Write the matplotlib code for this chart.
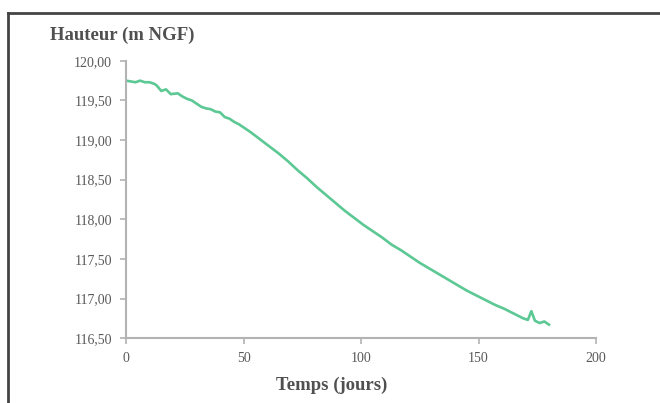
import matplotlib
matplotlib.use('Agg')
import matplotlib.pyplot as plt
from matplotlib.lines import Line2D
from matplotlib.ticker import FuncFormatter

# niveau piezometrique (m NGF) en fonction du temps (jours)
jours = [0, 2, 4, 6, 8, 10, 12, 13, 15, 17, 19, 22, 24, 26, 28, 30, 32, 34, 36, 38,
         40, 42, 44, 46, 48, 50, 53, 57, 61, 65, 69, 73, 77, 81, 85, 89, 93, 97,
         101, 105, 109, 113, 117, 121, 125, 129, 133, 137, 141, 145, 149, 153,
         157, 161, 165, 169, 171, 172.5, 174, 176, 178, 180]
hauteur = [119.75, 119.74, 119.73, 119.75, 119.73, 119.73, 119.71, 119.69, 119.62, 119.64,
           119.58, 119.59, 119.55, 119.52, 119.50, 119.46, 119.42, 119.40, 119.39, 119.36,
           119.35, 119.29, 119.27, 119.23, 119.20, 119.16, 119.10, 119.01, 118.92, 118.83,
           118.73, 118.62, 118.52, 118.41, 118.31, 118.21, 118.11, 118.02, 117.93, 117.85,
           117.77, 117.68, 117.61, 117.53, 117.45, 117.38, 117.31, 117.24, 117.17, 117.10,
           117.04, 116.98, 116.92, 116.87, 116.81, 116.75, 116.73, 116.84, 116.72, 116.69,
           116.71, 116.67]

gris = '#595959'
police = ['Liberation Serif', 'DejaVu Serif']

fig = plt.figure(figsize=(6.6, 4.03), dpi=100, facecolor='w')
ax = fig.add_axes([0.191, 0.161, 0.712, 0.688])

ax.plot(jours, hauteur, color='#5cc894', lw=1.9, solid_joinstyle='round')

ax.set_xlim(0, 200)
ax.set_ylim(116.5, 120.0)
ax.set_xticks([0, 50, 100, 150, 200])
ax.set_yticks([116.5, 117.0, 117.5, 118.0, 118.5, 119.0, 119.5, 120.0])
ax.yaxis.set_major_formatter(FuncFormatter(lambda v, p: f'{v:.2f}'.replace('.', ',')))

for s in ['top', 'right']:
    ax.spines[s].set_visible(False)
for s in ['left', 'bottom']:
    ax.spines[s].set_color('#b3b3b3')
    ax.spines[s].set_linewidth(1.5)
ax.tick_params(colors='#b3b3b3', width=1.2, length=4, labelcolor=gris, labelsize=10, pad=6)
for lab in ax.get_xticklabels() + ax.get_yticklabels():
    lab.set_family(police)

fig.text(0.076, 0.913, 'Hauteur (m NGF)', fontsize=13.5, fontweight='bold', color='#505050',
         family=police, ha='left', va='center')
fig.text(0.503, 0.045, 'Temps (jours)', fontsize=13.5, fontweight='bold', color='#505050',
         family=police, ha='center', va='center')

# cadre (seuls le haut et la gauche sont visibles)
fig.add_artist(Line2D([0.012, 1.0], [0.967, 0.967], transform=fig.transFigure, color='#444444', lw=2))
fig.add_artist(Line2D([0.012, 0.012], [0.0, 0.967], transform=fig.transFigure, color='#444444', lw=2))

plt.savefig('out.png', dpi=100)
